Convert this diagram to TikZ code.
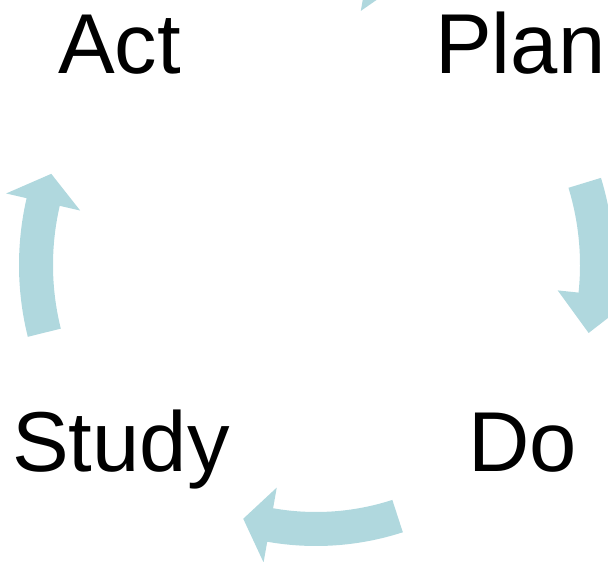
\documentclass[tikz,border=0pt]{standalone}
\usepackage{fontspec}
\setmainfont{Liberation Sans}

\definecolor{cyclecolor}{RGB}{176,216,222}
\tikzset{phase/.style={inner sep=0pt,anchor=base west,font=\fontsize{85}{85}\selectfont}}
\tikzset{cyclearrow/.style={fill=cyclecolor}}

% #1 tail angle, #2 head base angle, #3 tip angle, #4 radius
\newcommand{\bentarrow}[4]{%
  \pgfmathsetmacro{\ri}{#4-17}%
  \pgfmathsetmacro{\ro}{#4+17}%
  \pgfmathsetmacro{\hi}{#4-38}%
  \pgfmathsetmacro{\ho}{#4+38}%
  \fill[cyclearrow] (#1:\ri pt) arc[start angle=#1,end angle=#2,radius=\ri pt]
    -- (#2:\hi pt) -- (#3:#4pt) -- (#2:\ho pt) -- (#2:\ro pt)
    arc[start angle=#2,end angle=#1,radius=\ro pt] -- cycle;
}

\begin{document}
\begin{tikzpicture}[x=1pt,y=1pt]
        \clip (0,0) rectangle (608,562);
        % the four phases
        \node[phase] (act) at (58,488) {Act};
        \node[phase] (plan) at (435,488) {Plan};
        \node[phase] (study) at (12,90) {Study};
        \node[phase] (do) at (468,90) {Do};

        % the arrows round the cycle
        \coordinate (hub) at (316,297);
        \begin{scope}[shift={(hub)}]
          \bentarrow{106}{80}{73}{296}
          \bentarrow{17}{-6}{-14}{281}
          \bentarrow{-72}{-100}{-106}{264}
          \bentarrow{194}{167}{161}{280}
        \end{scope}
    \end{tikzpicture}
\end{document}
